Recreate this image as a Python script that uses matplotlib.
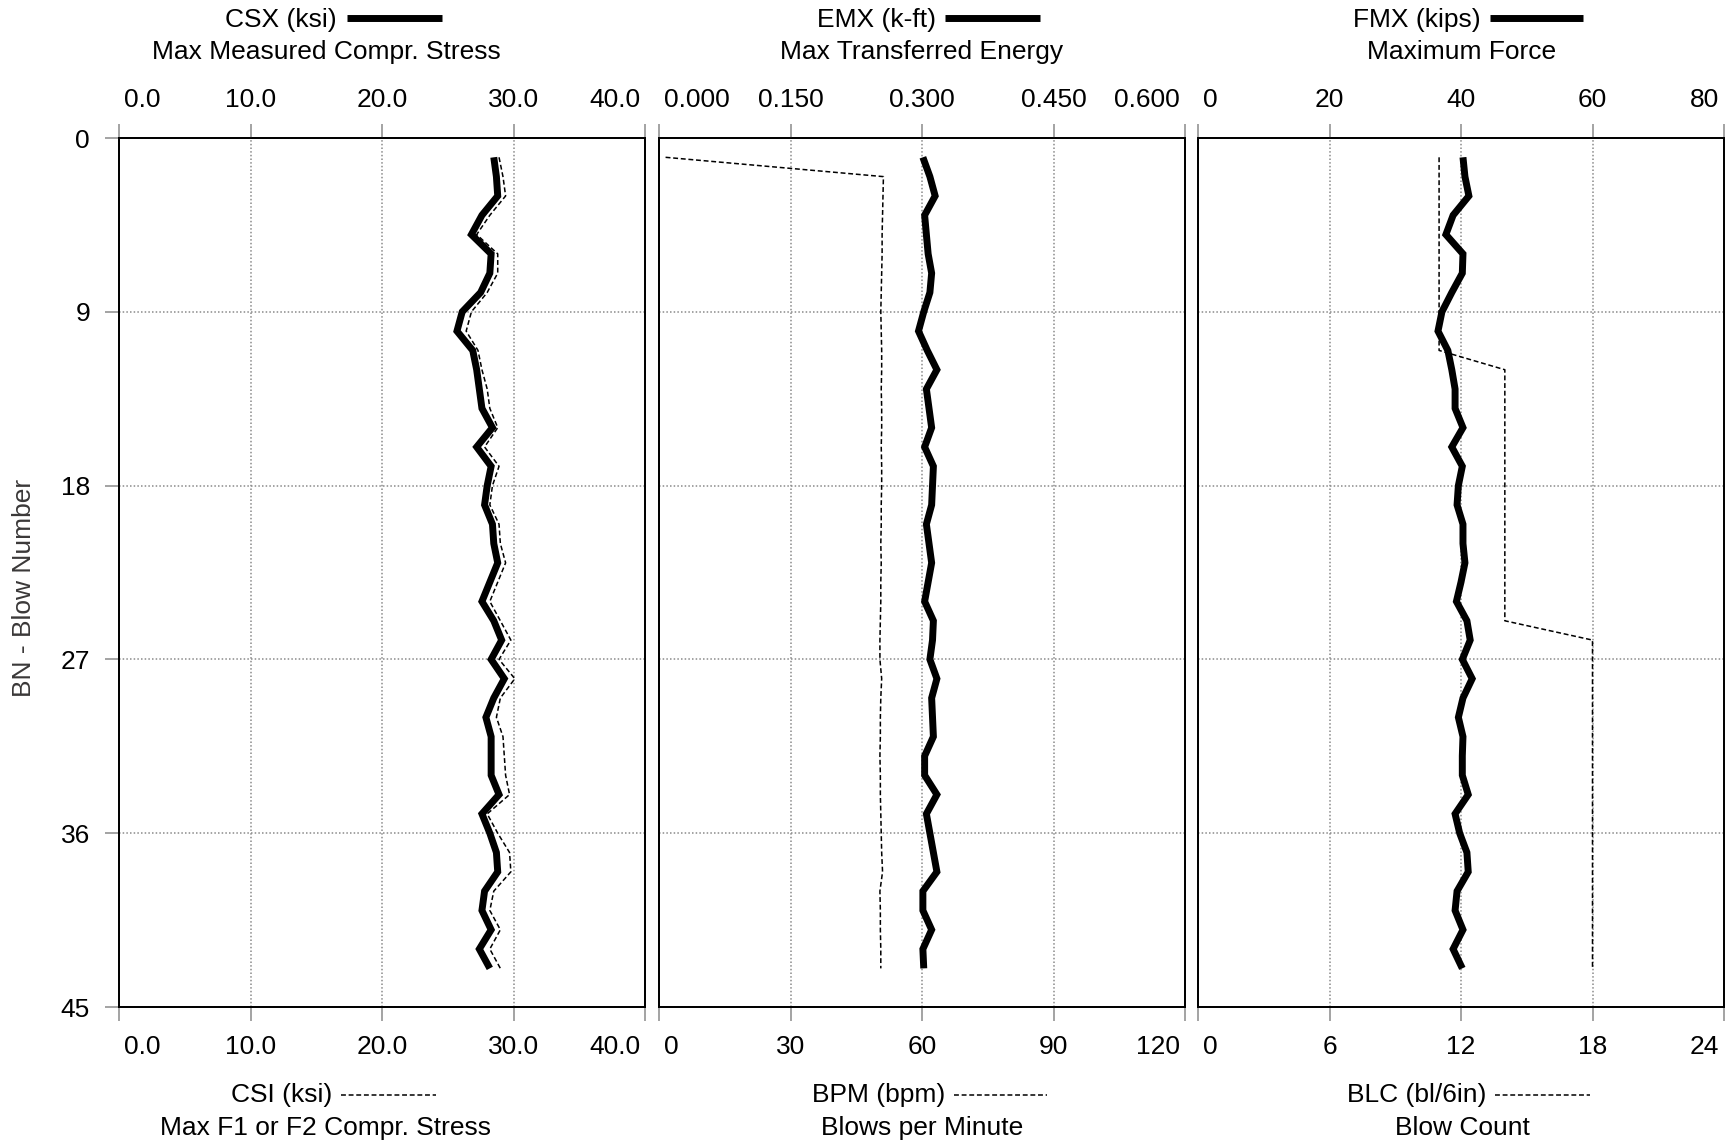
import matplotlib

matplotlib.use("Agg")
import matplotlib.pyplot as plt
from matplotlib.lines import Line2D
from matplotlib.transforms import ScaledTranslation

# blow numbers (vertical axis)
BLOW = [1, 2, 3, 4, 5, 6, 7, 8, 9, 10,
        11, 12, 13, 14, 15, 16, 17, 18, 19, 20,
        21, 22, 23, 24, 25, 26, 27, 28, 29, 30,
        31, 32, 33, 34, 35, 36, 37, 38, 39, 40,
        41, 42, 43]

# top-axis series (thick lines)
CSX = [28.5, 28.7, 28.8, 27.6, 26.8, 28.3, 28.2, 27.5, 26.1, 25.7,
       26.9, 27.2, 27.4, 27.6, 28.4, 27.2, 28.3, 28.0, 27.8, 28.4,
       28.5, 28.8, 28.2, 27.6, 28.5, 29.1, 28.3, 29.3, 28.5, 27.9,
       28.3, 28.3, 28.3, 28.9, 27.6, 28.2, 28.7, 28.8, 27.8, 27.6,
       28.3, 27.4, 28.2]
EMX = [0.301, 0.309, 0.315, 0.303, 0.305, 0.307, 0.311, 0.309, 0.302, 0.296,
       0.306, 0.317, 0.305, 0.308, 0.311, 0.303, 0.313, 0.312, 0.311, 0.305,
       0.308, 0.311, 0.307, 0.303, 0.313, 0.312, 0.309, 0.317, 0.311, 0.312,
       0.313, 0.303, 0.303, 0.317, 0.305, 0.309, 0.313, 0.317, 0.301, 0.301,
       0.311, 0.301, 0.302]
FMX = [40.3, 40.6, 41.2, 38.8, 37.7, 40.3, 40.2, 38.6, 37.1, 36.5,
       38.0, 38.6, 39.1, 39.1, 40.3, 38.6, 40.2, 39.6, 39.4, 40.3,
       40.3, 40.6, 40.0, 39.3, 40.9, 41.4, 40.2, 41.7, 40.3, 39.6,
       40.3, 40.2, 40.2, 41.1, 39.1, 39.8, 40.9, 41.1, 39.4, 39.1,
       40.3, 38.8, 40.2]

# bottom-axis series (dashed lines)
CSI = [28.9, 29.2, 29.4, 28.2, 27.2, 28.8, 28.8, 28.0, 26.8, 26.4,
       27.3, 27.6, 28.0, 28.2, 28.8, 27.8, 28.9, 28.4, 28.2, 28.9,
       29.0, 29.4, 28.8, 28.2, 29.0, 29.8, 28.9, 30.1, 29.0, 28.7,
       29.2, 29.3, 29.4, 29.7, 28.0, 28.8, 29.7, 29.8, 28.5, 28.2,
       29.0, 28.2, 29.0]
BPM = [1.5, 51.2, 51.1, 51.0, 50.9, 50.9, 50.8, 50.7, 50.6, 50.7,
       50.8, 50.8, 50.7, 50.8, 50.8, 50.7, 50.8, 50.8, 50.7, 50.7,
       50.6, 50.7, 50.6, 50.6, 50.5, 50.4, 50.4, 50.8, 50.6, 50.5,
       50.5, 50.4, 50.5, 50.5, 50.6, 50.7, 50.8, 51.0, 50.4, 50.5,
       50.5, 50.6, 50.6]
BLC = [11, 11, 11, 11, 11, 11, 11, 11, 11, 11,
       11, 14, 14, 14, 14, 14, 14, 14, 14, 14,
       14, 14, 14, 14, 14, 18, 18, 18, 18, 18,
       18, 18, 18, 18, 18, 18, 18, 18, 18, 18,
       18, 18, 18]

TOP_TITLES = ["CSX (ksi)", "EMX (k-ft)", "FMX (kips)"]
TOP_SUBTITLES = ["Max Measured Compr. Stress", "Max Transferred Energy", "Maximum Force"]
BOTTOM_TITLES = ["CSI (ksi)", "BPM (bpm)", "BLC (bl/6in)"]
BOTTOM_SUBTITLES = ["Max F1 or F2 Compr. Stress", "Blows per Minute", "Blow Count"]

TOP_TICKS = [[0, 10, 20, 30, 40], [0, 0.15, 0.3, 0.45, 0.6], [0, 20, 40, 60, 80]]
TOP_TICKLABELS = [["0.0", "10.0", "20.0", "30.0", "40.0"],
                  ["0.000", "0.150", "0.300", "0.450", "0.600"],
                  ["0", "20", "40", "60", "80"]]
BOTTOM_TICKS = [[0, 10, 20, 30, 40], [0, 30, 60, 90, 120], [0, 6, 12, 18, 24]]
BOTTOM_TICKLABELS = [["0.0", "10.0", "20.0", "30.0", "40.0"],
                     ["0", "30", "60", "90", "120"],
                     ["0", "6", "12", "18", "24"]]
Y_TICKS = [0, 9, 18, 27, 36, 45]

# layout in pixels of the 1732x1144 canvas
W, H = 1732, 1144
PANEL_LEFT = [119, 659, 1198]
PANEL_W = 526
PANEL_TOP, PANEL_BOTTOM = 138, 1007
TITLE_CENTER = [326, 922, 1462]
TOP_TEXT_END = [337, 936, 1481]
TOP_LINE = [(347, 442), (945, 1040), (1490, 1583)]
BOT_TEXT_END = [332, 945, 1486]
BOT_LINE = [(341, 436), (954, 1047), (1495, 1590)]

TICK_COLOR = "#8a8a8a"
GRID_COLOR = "#8a8a8a"
FS = 19
THICK = 5.0
DASH = (0, (3.2, 1.8))

plt.rcParams.update(
    {
        "font.family": ["Liberation Sans", "DejaVu Sans"],
        "font.size": FS,
        "axes.linewidth": 1.3,
    }
)

fig = plt.figure(figsize=(W / 100, H / 100), dpi=100)


def fx(x):
    return x / W


def fy(y):
    return 1 - y / H


def edge_align(axis):
    ticks = axis.get_major_ticks()
    for t, ha, dx in ((ticks[0], "left", 5), (ticks[-1], "right", -5)):
        for lab in (t.label1, t.label2):
            lab.set_horizontalalignment(ha)
            lab.set_transform(lab.get_transform() + ScaledTranslation(dx / 100, 0, fig.dpi_scale_trans))


series = [(CSX, CSI), (EMX, BPM), (FMX, BLC)]
for i, (top_vals, bot_vals) in enumerate(series):
    ax = fig.add_axes([fx(PANEL_LEFT[i]), fy(PANEL_BOTTOM), PANEL_W / W, (PANEL_BOTTOM - PANEL_TOP) / H])
    ax.set_ylim(45, 0)
    ax.set_yticks(Y_TICKS)
    ax.set_xlim(BOTTOM_TICKS[i][0], BOTTOM_TICKS[i][-1])
    ax.set_xticks(BOTTOM_TICKS[i], BOTTOM_TICKLABELS[i])
    ax.grid(True, color=GRID_COLOR, linestyle=(0, (1, 1.4)), linewidth=1.1)
    ax.set_axisbelow(True)
    ax.plot(bot_vals, BLOW, color="black", lw=1.1, ls=DASH)
    ax.tick_params(axis="x", direction="out", length=10, width=1.1, color=TICK_COLOR,
                   labelsize=FS, pad=10)
    if i == 0:
        ax.tick_params(axis="y", direction="out", length=10, width=1.1, color=TICK_COLOR,
                       labelsize=FS, pad=10.8)
        ax.set_yticklabels([str(v) for v in Y_TICKS])
    else:
        ax.tick_params(axis="y", left=False, labelleft=False)

    tw = ax.twiny()
    tw.set_xlim(TOP_TICKS[i][0], TOP_TICKS[i][-1])
    tw.set_xticks(TOP_TICKS[i], TOP_TICKLABELS[i])
    tw.tick_params(axis="x", direction="out", length=10, width=1.1, color=TICK_COLOR,
                   labelsize=FS, pad=8.4)
    tw.plot(top_vals, BLOW, color="black", lw=THICK, solid_joinstyle="miter", solid_capstyle="butt")

    edge_align(ax.xaxis)
    edge_align(tw.xaxis)

    # top legend / titles
    fig.text(fx(TOP_TEXT_END[i]), fy(27), TOP_TITLES[i], ha="right", va="baseline")
    x0, x1 = TOP_LINE[i]
    fig.add_artist(Line2D([fx(x0), fx(x1)], [fy(18), fy(18)], transform=fig.transFigure,
                          color="black", lw=THICK, solid_capstyle="butt"))
    fig.text(fx(TITLE_CENTER[i]), fy(59), TOP_SUBTITLES[i], ha="center", va="baseline")

    # bottom legend / titles
    fig.text(fx(BOT_TEXT_END[i]), fy(1102), BOTTOM_TITLES[i], ha="right", va="baseline")
    x0, x1 = BOT_LINE[i]
    fig.add_artist(Line2D([fx(x0), fx(x1)], [fy(1095), fy(1095)], transform=fig.transFigure,
                          color="black", lw=1.1, ls=DASH))
    fig.text(fx(TITLE_CENTER[i]), fy(1135), BOTTOM_SUBTITLES[i], ha="center", va="baseline")

fig.text(fx(24), fy(588), "BN - Blow Number", rotation=90, ha="center", va="center", color="#3a3838")

fig.savefig("out.png", dpi=100)
plt.close(fig)
